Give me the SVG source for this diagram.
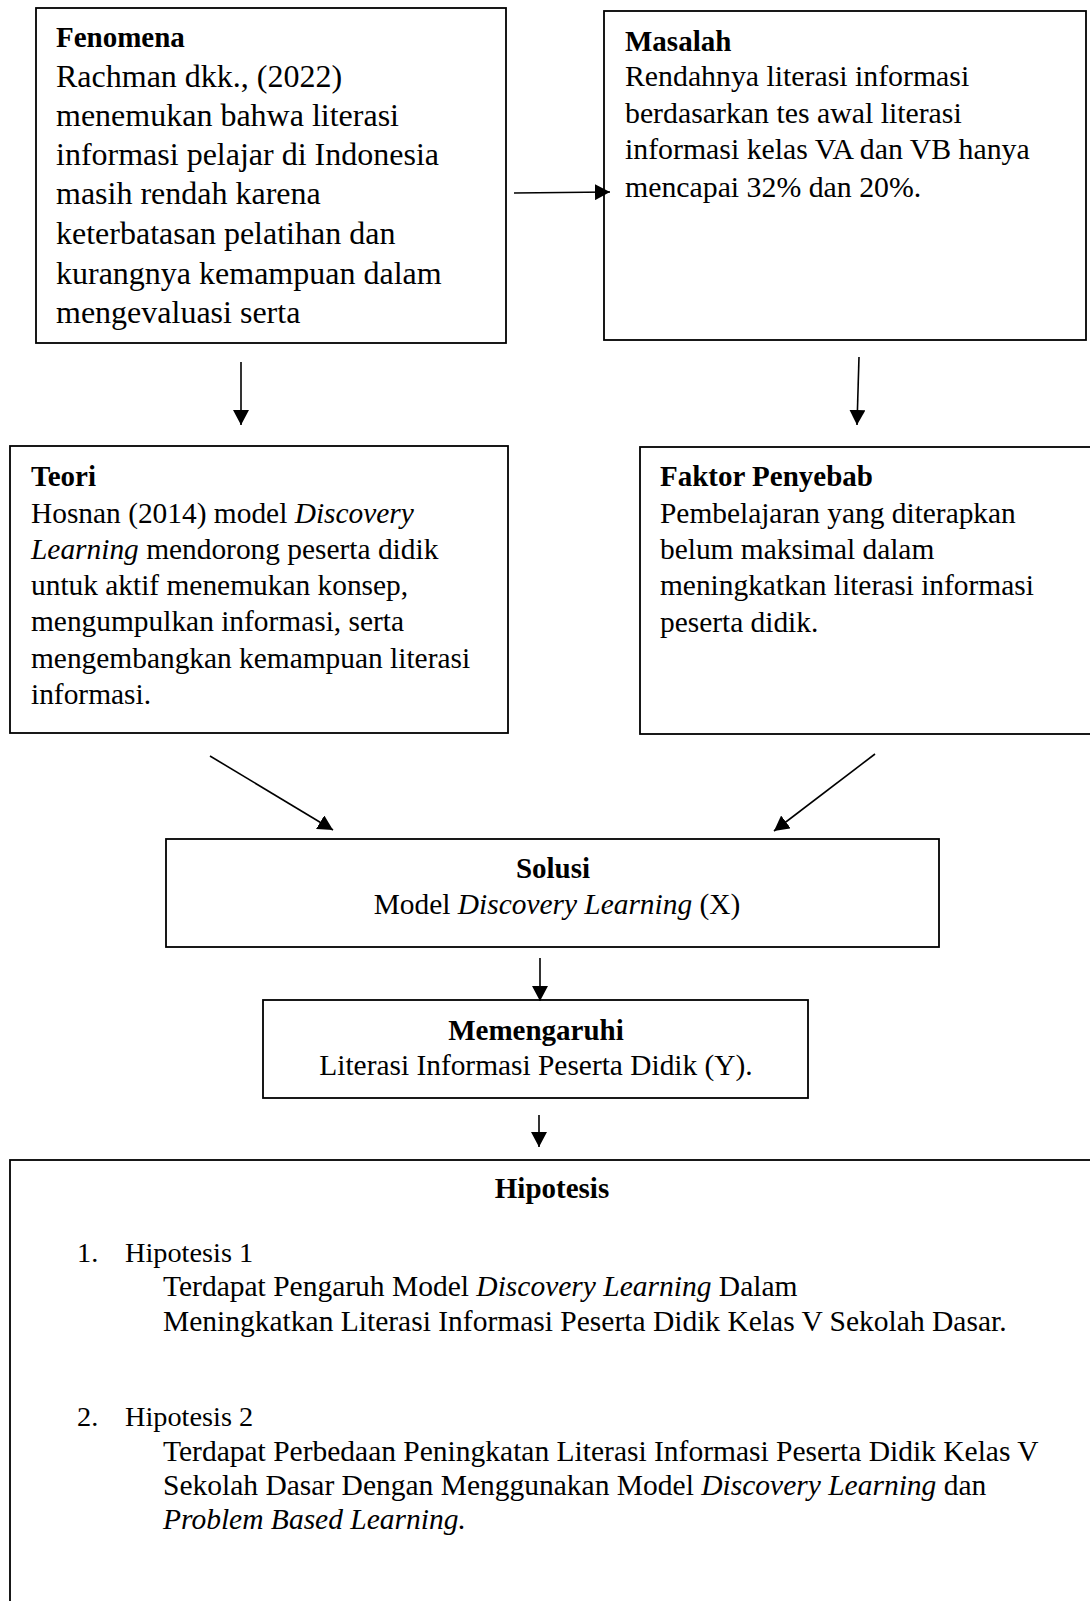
<svg xmlns="http://www.w3.org/2000/svg" width="1090" height="1601" viewBox="0 0 1090 1601">
<style>
.box{fill:#fff;stroke:#000;stroke-width:1.8}
.t{font-family:"Liberation Serif","Times New Roman",serif;font-size:29.4px;fill:#000}
.b{font-weight:bold;font-size:29px}
.big{font-size:32px}
.m{font-size:29.8px}
.h{font-size:29.5px}
.hn{font-size:28.3px}
.i{font-style:italic}
.c{text-anchor:middle}
.con{stroke:#000;stroke-width:1.6;fill:none;marker-end:url(#ah)}
</style>
<defs>
<marker id="ah" viewBox="0 0 15 16" refX="15" refY="8" markerWidth="15" markerHeight="16" markerUnits="userSpaceOnUse" orient="auto">
<path d="M0,0 L15,8 L0,16 z" fill="#000"/>
</marker>
</defs>
<rect width="1090" height="1601" fill="#fff"/>
<g id="fenomena">
<rect class="box" x="36" y="8" width="470" height="335"/>
<text class="t b" x="56" y="47">Fenomena</text>
<text class="t big" x="56" y="87">Rachman dkk., (2022)</text>
<text class="t big" x="56" y="126">menemukan bahwa literasi</text>
<text class="t big" x="56" y="165">informasi pelajar di Indonesia</text>
<text class="t big" x="56" y="204">masih rendah karena</text>
<text class="t big" x="56" y="244">keterbatasan pelatihan dan</text>
<text class="t big" x="56" y="284">kurangnya kemampuan dalam</text>
<text class="t big" x="56" y="323">mengevaluasi serta</text>
</g>
<g id="masalah">
<rect class="box" x="604" y="11" width="482" height="329"/>
<text class="t b" x="625" y="50.5">Masalah</text>
<text class="t m" x="625" y="86">Rendahnya literasi informasi</text>
<text class="t m" x="625" y="122.5">berdasarkan tes awal literasi</text>
<text class="t m" x="625" y="159">informasi kelas VA dan VB hanya</text>
<text class="t m" x="625" y="196.5">mencapai 32% dan 20%.</text>
</g>
<g id="teori">
<rect class="box" x="10" y="446" width="498" height="287"/>
<text class="t b" x="31" y="486">Teori</text>
<text class="t" x="31" y="523">Hosnan (2014) model <tspan class="i">Discovery</tspan></text>
<text class="t" x="31" y="559"><tspan class="i">Learning</tspan> mendorong peserta didik</text>
<text class="t" x="31" y="595">untuk aktif menemukan konsep,</text>
<text class="t" x="31" y="631">mengumpulkan informasi, serta</text>
<text class="t" x="31" y="668">mengembangkan kemampuan literasi</text>
<text class="t" x="31" y="704">informasi.</text>
</g>
<g id="faktor">
<rect class="box" x="640" y="447" width="470" height="287"/>
<text class="t b" x="660" y="486">Faktor Penyebab</text>
<text class="t" x="660" y="523">Pembelajaran yang diterapkan</text>
<text class="t" x="660" y="559">belum maksimal dalam</text>
<text class="t" x="660" y="595">meningkatkan literasi informasi</text>
<text class="t" x="660" y="632">peserta didik.</text>
</g>
<g id="solusi">
<rect class="box" x="166" y="839" width="773" height="108"/>
<text class="t b c" x="553" y="877.5">Solusi</text>
<text class="t c" x="557" y="913.5">Model <tspan class="i">Discovery Learning</tspan> (X)</text>
</g>
<g id="memengaruhi">
<rect class="box" x="263" y="1000" width="545" height="98"/>
<text class="t b c" x="536" y="1039.5">Memengaruhi</text>
<text class="t c" x="536" y="1074.5">Literasi Informasi Peserta Didik (Y).</text>
</g>
<g id="hipotesis">
<rect class="box" x="10" y="1160" width="1100" height="500"/>
<text class="t b c" x="552" y="1198">Hipotesis</text>
<text class="t hn" x="77" y="1262">1.</text>
<text class="t hn" x="125" y="1262">Hipotesis 1</text>
<text class="t h" x="163" y="1296">Terdapat Pengaruh Model <tspan class="i">Discovery Learning</tspan> Dalam</text>
<text class="t h" x="163" y="1331">Meningkatkan Literasi Informasi Peserta Didik Kelas V Sekolah Dasar.</text>
<text class="t hn" x="77" y="1426">2.</text>
<text class="t hn" x="125" y="1426">Hipotesis 2</text>
<text class="t h" x="163" y="1461">Terdapat Perbedaan Peningkatan Literasi Informasi Peserta Didik Kelas V</text>
<text class="t h" x="163" y="1495">Sekolah Dasar Dengan Menggunakan Model <tspan class="i">Discovery Learning</tspan> dan</text>
<text class="t h i" x="163" y="1529">Problem Based Learning.</text>
</g>
<g id="connectors">
<line class="con" x1="514" y1="193" x2="610" y2="192"/>
<line class="con" x1="241" y1="362" x2="241" y2="425"/>
<line class="con" x1="859" y1="357" x2="857" y2="425"/>
<line class="con" x1="210" y1="756" x2="333" y2="830"/>
<line class="con" x1="875" y1="754" x2="774" y2="831"/>
<line class="con" x1="540" y1="958" x2="540" y2="1001"/>
<line class="con" x1="539" y1="1115" x2="539" y2="1147"/>
</g>
</svg>
